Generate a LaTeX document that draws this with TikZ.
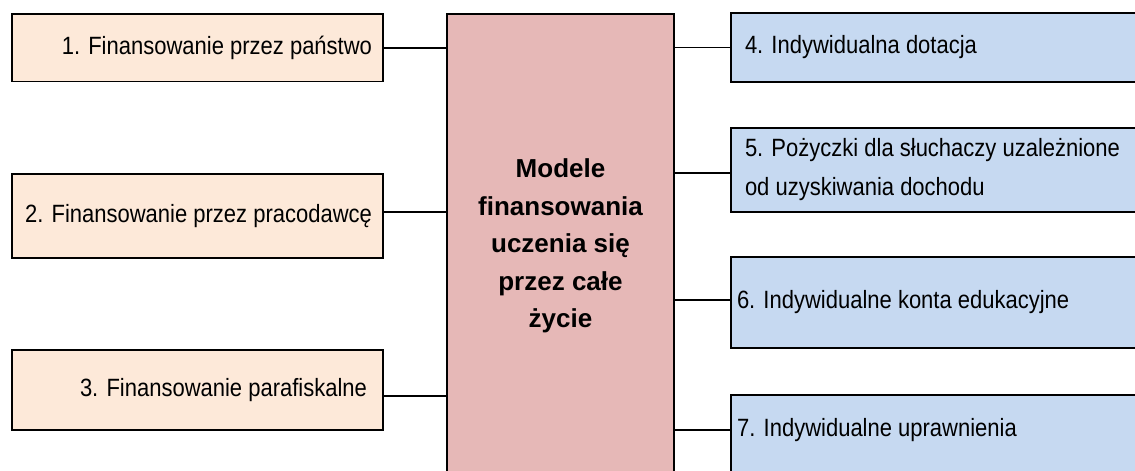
\documentclass[tikz,border=0pt]{standalone}
\usepackage{fontspec}
\setmainfont{Liberation Sans}
\newfontfamily\narrowfont{Liberation Sans}[FakeStretch=0.88]
\definecolor{peach}{HTML}{FDE9D9}
\definecolor{rose}{HTML}{E6B8B7}
\definecolor{skyb}{HTML}{C6D9F1}
\tikzset{
  box/.style={draw=black, line width=1.8pt, inner ysep=0pt, font=\narrowfont\fontsize{25}{39}\selectfont},
  lbox/.style={box, fill=peach, minimum width=371pt, align=flush right, inner xsep=11pt, text width=349pt},
  rbox/.style={box, fill=skyb, minimum width=419pt, align=flush left, inner xsep=14pt, text width=391pt},
  conn/.style={draw=black, line width=1.8pt},
}
\begin{document}
\begin{tikzpicture}[x=1pt,y=-1pt]
\useasboundingbox (0,0) rectangle (1135,471);
\clip (0,0) rectangle (1135,471);
% centre
\node[box, fill=rose, minimum width=227pt, minimum height=476pt] (c) at (560.5,252) {};
\node[font=\bfseries\fontsize{26}{37.5}\selectfont, align=center, inner sep=0pt] (ct) at (560.5,246) {Modele\\finansowania\\uczenia się\\przez całe\\życie};
% left
\node[lbox, minimum height=67.5pt] (l1) at (197.5,47.75) {1. Finansowanie przez państwo};
\node[lbox, minimum height=84pt] (l2) at (197.5,216) {2. Finansowanie przez pracodawcę};
\node[lbox, minimum height=80pt, inner xsep=16pt, text width=339pt] (l3) at (197.5,390) {3. Finansowanie parafiskalne};
% right
\node[rbox, minimum height=69pt] (r4) at (940.5,47.5) {4. Indywidualna dotacja};
\node[rbox, minimum height=84pt] (r5) at (940.5,170) {5. Pożyczki dla słuchaczy uzależnione\\od uzyskiwania dochodu};
\node[rbox, minimum height=91pt, inner xsep=6pt, text width=407pt] (r6) at (940.5,302.5) {6. Indywidualne konta edukacyjne};
\node[rbox, minimum height=95pt] (r7) at (940.5,442.5) {};
\node[font=\narrowfont\fontsize{25}{39}\selectfont, anchor=west, inner sep=0pt] (t7) at (737,430) {7. Indywidualne uprawnienia};
% connectors
\coordinate (p1) at (l1.east);
\coordinate (p2) at ([yshift=4.3pt]l2.east);
\coordinate (p3) at ([yshift=-5.7pt]l3.east);
\coordinate (q4) at (r4.west);
\coordinate (q5) at ([yshift=-3.3pt]r5.west);
\coordinate (q6) at ([yshift=2.5pt]r6.west);
\coordinate (q7) at ([yshift=12.5pt]r7.west);
\draw[conn] (p1) -- (p1 -| c.west);
\draw[conn] (p2) -- (p2 -| c.west);
\draw[conn] (p3) -- (p3 -| c.west);
\draw[conn] (q4) -- (q4 -| c.east);
\draw[conn] (q5) -- (q5 -| c.east);
\draw[conn] (q6) -- (q6 -| c.east);
\draw[conn] (q7) -- (q7 -| c.east);
\end{tikzpicture}
\end{document}
